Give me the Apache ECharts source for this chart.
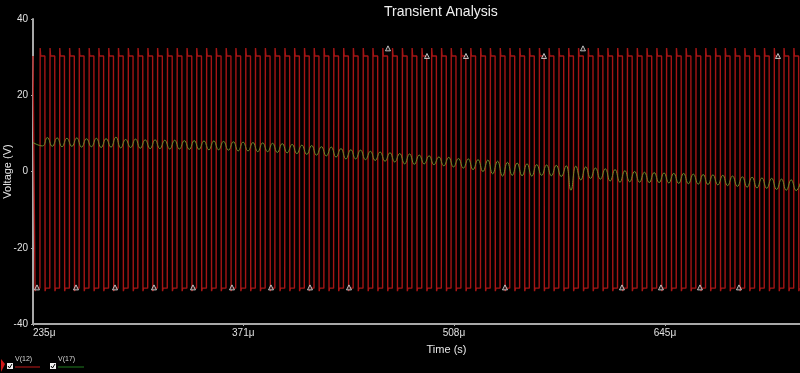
<!DOCTYPE html>
<html>
<head>
<meta charset="utf-8">
<script src="https://cdn.jsdelivr.net/npm/echarts@6/dist/echarts.min.js"></script>
<style>
  html, body { margin: 0; padding: 0; background: #000; }
  #chart { width: 800px; height: 373px; }
</style>
</head>
<body>
<div id="chart"></div>
<script>
// ---- Data (time in µs, voltage in V) ----
const xTickValues = [235, 371.4, 508.1, 645];
const xTickLabels = ['235\u03bc', '371\u03bc', '508\u03bc', '645\u03bc'];
const yTickValues = [-40, -20, 0, 20, 40];

// V(12): rising-edge times of the square wave (µs)
const v12RiseTimes = [
  239.5, 245.9, 252.2, 258.6, 264.9, 271.3, 277.6, 284.0, 290.3, 296.7,
  303.0, 309.4, 315.7, 322.1, 328.4, 334.8, 341.1, 347.5, 353.8, 360.2,
  366.5, 372.9, 379.2, 385.6, 391.9, 398.3, 404.6, 411.0, 417.3, 423.7,
  430.0, 436.4, 442.7, 449.1, 455.4, 461.8, 468.1, 474.5, 480.8, 487.2,
  493.5, 499.9, 506.2, 512.6, 518.9, 525.3, 531.6, 538.0, 544.3, 550.7,
  557.0, 563.4, 569.7, 576.1, 582.4, 588.8, 595.1, 601.5, 607.8, 614.2,
  620.5, 626.9, 633.2, 639.6, 645.9, 652.3, 658.6, 665.0, 671.3, 677.7,
  684.0, 690.4, 696.7, 703.1, 709.4, 715.8, 722.1, 728.5
];
const v12HighWidth = [3.2];            // µs the output stays high after each rise
const v12Levels = [-30.6, -31.4, 30.3, 32.4]; // low, undershoot, high, overshoot
const v12Start = [30.3];               // level at the left edge (235 µs)
const v12FirstFall = [236.2];

// Marker triangles on V(12)
const v12MarkerTimes = [237.6, 262.9, 288.2, 313.5, 338.8, 364.1, 389.4, 414.7, 440.0, 465.3,
                        490.6, 515.9, 541.2, 566.5, 591.8, 617.1, 642.4, 667.7, 693.0, 718.3];
const v12MarkerValues = [-30.4, -30.4, -30.4, -30.4, -30.4, -30.4, -30.4, -30.4, -30.4, 32.3,
                         30.3, 30.3, -30.4, 30.3, 32.3, -30.4, -30.4, -30.4, -30.4, 30.3];

// V(17): ripple peaks and troughs, one pair per switching cycle
const v17Peaks = [
  8.9, 8.8, 8.7, 8.8, 8.6, 8.7, 8.6, 9.0, 8.4, 8.5,
  8.3, 8.3, 8.2, 8.2, 8.1, 8.1, 8.0, 8.0, 7.9, 7.8,
  7.7, 7.6, 7.5, 7.4, 7.3, 7.1, 6.9, 6.8, 6.5, 6.4,
  6.0, 5.7, 5.6, 5.3, 5.1, 4.9, 4.7, 4.6, 4.3, 4.1,
  3.8, 3.7, 3.4, 3.3, 3.1, 3.0, 2.7, 2.4, 2.2, 2.0,
  1.8, 1.7, 1.6, 1.5, 1.4, 1.2, 0.9, 0.7, 0.5, 0.2,
  0.0, -0.2, -0.3, -0.4, -0.5, -0.5, -0.7, -0.8, -0.9, -1.0,
  -1.2, -1.4, -1.5, -1.7, -1.8, -2.0, -2.2, -2.3
];
const v17Troughs = [
  6.7, 6.6, 6.5, 6.6, 6.4, 6.5, 6.3, 6.4, 6.2, 6.3,
  6.1, 6.0, 6.0, 5.9, 5.9, 5.8, 5.8, 5.7, 5.7, 5.6,
  5.4, 5.4, 5.2, 5.2, 5.0, 4.9, 4.7, 4.5, 4.3, 4.1,
  3.8, 3.3, 3.3, 3.1, 2.9, 2.7, 2.5, 2.0, 1.9, 2.0,
  1.8, 1.5, 1.2, 0.9, 0.5, 0.0, -0.6, -1.2, -1.0, -1.1,
  -1.2, -1.0, -1.1, -1.3, -4.9, -2.2, -1.8, -2.0, -2.5, -2.8,
  -2.7, -2.8, -2.9, -2.9, -3.0, -3.1, -3.2, -3.3, -3.4, -3.5,
  -3.7, -3.9, -4.1, -4.3, -4.4, -4.7, -4.9, -5.0
];
const v17Ends = [7.6, -4.0];           // values at the left and right edges

const xRange = [235, 732.6];
const yRange = [-40, 40];

// ---- Build series data ----
const [LOW, DIP, HIGH, PEAK] = v12Levels;
const v12Data = [[xRange[0], v12Start[0]], [v12FirstFall[0], HIGH], [v12FirstFall[0] + 0.15, DIP], [v12FirstFall[0] + 0.5, LOW]];
v12RiseTimes.forEach(r => {
  const f = r + v12HighWidth[0];
  v12Data.push([r, LOW], [r + 0.15, PEAK], [r + 0.5, HIGH]);
  if (f < xRange[1]) v12Data.push([f, HIGH], [f + 0.15, DIP], [f + 0.5, LOW]);
});
v12Data.push([xRange[1], LOW]);

const v17Data = [[xRange[0], v17Ends[0]]];
v12RiseTimes.forEach((r, k) => {
  v17Data.push([r + 1.6, v17Troughs[k]], [r + 4.8, v17Peaks[k]]);
});
v17Data.push([xRange[1], v17Ends[1]]);

const markerData = v12MarkerTimes.map((t, i) => [t, v12MarkerValues[i]]);

const FONT = '"Liberation Sans", Arial, sans-serif';
const chart = echarts.init(document.getElementById('chart'), null, { renderer: 'canvas' });
chart.setOption({
  backgroundColor: '#000000',
  animation: false,
  title: {
    text: 'Transient Analysis',
    left: 379, top: 0,
    textStyle: { color: '#f0f0f0', fontSize: 14, fontWeight: 'normal', fontFamily: FONT }
  },
  grid: { left: 33, right: 0, top: 19, bottom: 49, containLabel: false, outerBoundsMode: 'none' },
  xAxis: {
    type: 'value',
    min: xRange[0], max: xRange[1],
    name: 'Time (s)',
    nameLocation: 'middle',
    nameGap: 20,
    nameMoveOverlap: false,
    nameTextStyle: { color: '#e8e8e8', fontSize: 11, fontFamily: FONT, padding: [0, 0, 0, 60] },
    axisLine: { show: true, onZero: false, lineStyle: { color: '#a8a8a8', width: 2 } },
    axisTick: { show: true, length: 2, customValues: xTickValues, lineStyle: { color: '#a8a8a8' } },
    axisLabel: {
      customValues: xTickValues,
      color: '#e0e0e0', fontSize: 10, fontFamily: FONT, margin: 4,
      alignMinLabel: 'left',
      formatter: v => {
        const i = xTickValues.findIndex(t => Math.abs(t - v) < 0.01);
        return i >= 0 ? xTickLabels[i] : '';
      }
    },
    splitLine: { show: false }
  },
  yAxis: {
    type: 'value',
    min: yRange[0], max: yRange[1], interval: 20,
    name: 'Voltage (V)',
    nameLocation: 'middle',
    nameGap: 20,
    nameRotate: 90,
    nameMoveOverlap: false,
    nameTextStyle: { color: '#e8e8e8', fontSize: 11, fontFamily: FONT },
    axisLine: { show: true, onZero: false, lineStyle: { color: '#a8a8a8', width: 2 } },
    axisTick: { show: true, length: 2, lineStyle: { color: '#a8a8a8' } },
    axisLabel: { color: '#e0e0e0', fontSize: 10, fontFamily: FONT, margin: 5 },
    splitLine: { show: false }
  },
  series: [
    {
      name: 'V(12)', type: 'line', data: v12Data, showSymbol: false, symbol: 'none',
      lineStyle: { color: '#a51515', width: 1.4 }, z: 2, sampling: null
    },
    {
      name: 'V(17)', type: 'line', data: v17Data, showSymbol: false, symbol: 'none', smooth: 0.5,
      lineStyle: { color: '#6f8c2a', width: 1 }, z: 3
    },
    {
      name: 'markers', type: 'scatter', data: markerData, symbol: 'triangle', symbolSize: 5,
      itemStyle: { color: '#202020', borderColor: '#e8e8e8', borderWidth: 1 }, z: 4, silent: true
    }
  ],
  graphic: [
    { type: 'polygon', shape: { points: [[1, 359], [5, 364], [1, 372]] }, style: { fill: '#d01818' } },
    { type: 'rect', shape: { x: 7, y: 363, width: 6, height: 6 }, style: { fill: '#f0f0f0' } },
    { type: 'polyline', shape: { points: [[8, 366], [9.5, 368], [12, 364]] }, style: { stroke: '#000', lineWidth: 1, fill: null } },
    { type: 'text', style: { x: 15, y: 356, text: 'V(12)', fill: '#d8d8d8', fontSize: 7, fontFamily: FONT } },
    { type: 'line', shape: { x1: 15, y1: 367, x2: 40, y2: 367 }, style: { stroke: '#c01818', lineWidth: 1 } },
    { type: 'rect', shape: { x: 50, y: 363, width: 6, height: 6 }, style: { fill: '#f0f0f0' } },
    { type: 'polyline', shape: { points: [[51, 366], [52.5, 368], [55, 364]] }, style: { stroke: '#000', lineWidth: 1, fill: null } },
    { type: 'text', style: { x: 58, y: 356, text: 'V(17)', fill: '#d8d8d8', fontSize: 7, fontFamily: FONT } },
    { type: 'line', shape: { x1: 58, y1: 367, x2: 84, y2: 367 }, style: { stroke: '#1f7a1f', lineWidth: 1 } }
  ]
});
</script>
</body>
</html>
